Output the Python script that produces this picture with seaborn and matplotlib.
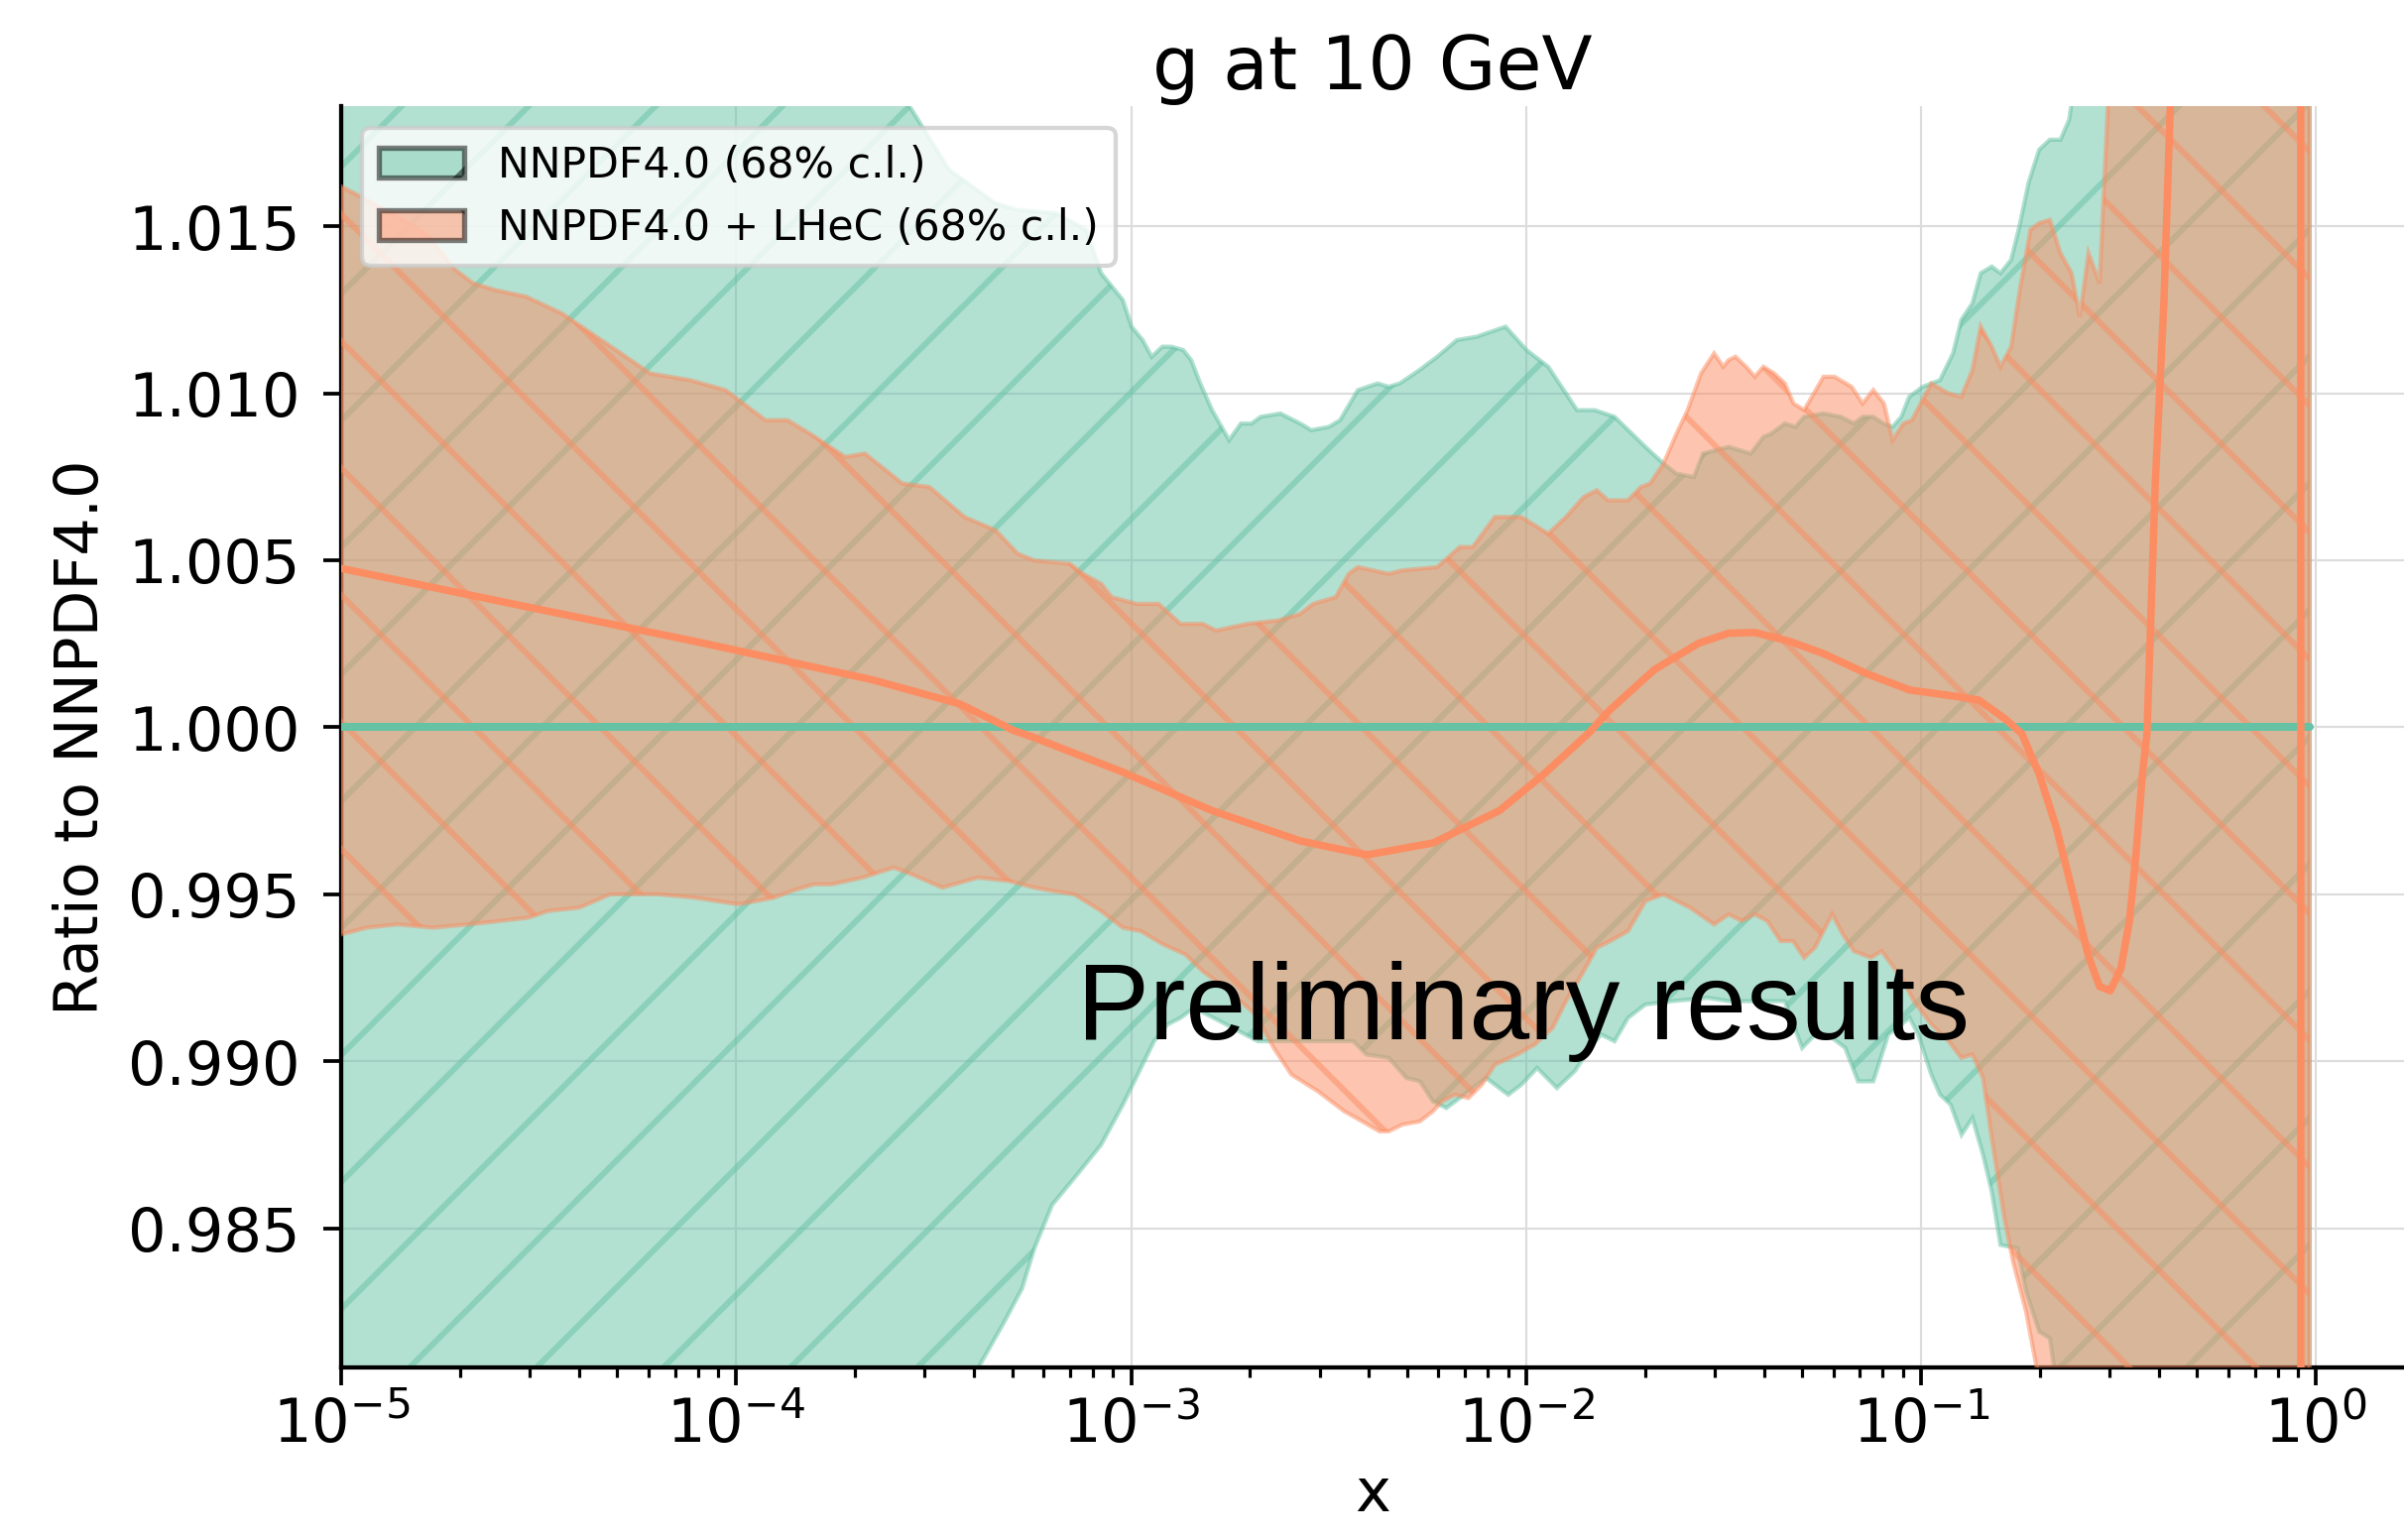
import numpy as np
import matplotlib
matplotlib.use("Agg")
import matplotlib.pyplot as plt
import matplotlib.patches as mpatches
from matplotlib.ticker import LogLocator, NullFormatter, FormatStrFormatter
import seaborn as sns

# ---------------------------------------------------------------------------
# Gluon ratio to NNPDF4.0 at Q = 10 GeV (68% c.l. envelopes), x on log10 scale
# ---------------------------------------------------------------------------
nnpdf_hi_log10x = [
    -5.00, -4.50, -4.00, -3.70, -3.561, -3.461, -3.345, -3.292, -3.191, -3.114,
    -3.076, -3.021, -2.999, -2.971, -2.948, -2.921, -2.898, -2.868, -2.848, -2.825,
    -2.795, -2.752, -2.722, -2.695, -2.672, -2.622, -2.572, -2.544, -2.499, -2.471,
    -2.426, -2.376, -2.348, -2.320, -2.270, -2.225, -2.175, -2.125, -2.052, -1.999,
    -1.944, -1.871, -1.826, -1.776, -1.698, -1.652, -1.620, -1.575, -1.552, -1.487,
    -1.431, -1.399, -1.379, -1.345, -1.318, -1.296, -1.247, -1.203, -1.170, -1.148,
    -1.121, -1.095, -1.072, -1.050, -1.030, -0.996, -0.952, -0.919, -0.898, -0.870,
    -0.849, -0.821, -0.799, -0.772, -0.751, -0.728, -0.701, -0.674, -0.647, -0.625,
    -0.620, -0.55, -0.40, -0.20, -0.016]
nnpdf_hi = [
    1.0300, 1.0270, 1.0230, 1.0200, 1.0186, 1.0167, 1.0157, 1.0155, 1.0154, 1.0149,
    1.0136, 1.0128, 1.0120, 1.0116, 1.0111, 1.0114, 1.0114, 1.0113, 1.0110, 1.0103,
    1.0095, 1.0086, 1.0091, 1.0091, 1.0093, 1.0094, 1.0091, 1.0089, 1.0090, 1.0092,
    1.0101, 1.0103, 1.0102, 1.0103, 1.0107, 1.0111, 1.0116, 1.0117, 1.0120, 1.0113,
    1.0108, 1.0095, 1.0095, 1.0093, 1.0084, 1.0079, 1.0076, 1.0075, 1.0082, 1.0084,
    1.0082, 1.0087, 1.0088, 1.0091, 1.0090, 1.0093, 1.0094, 1.0093, 1.0091, 1.0093,
    1.0093, 1.0091, 1.0090, 1.0093, 1.0099, 1.0102, 1.0104, 1.0112, 1.0122, 1.0127,
    1.0136, 1.0138, 1.0136, 1.0140, 1.0150, 1.0163, 1.0173, 1.0176, 1.0176, 1.0182,
    1.0186, 1.0250, 1.0400, 1.0700, 1.1200]

nnpdf_lo_log10x = [
    -5.00, -4.50, -4.00, -3.60, -3.388, -3.321, -3.276, -3.245, -3.200, -3.144,
    -3.076, -3.021, -2.942, -2.908, -2.875, -2.841, -2.775, -2.679, -2.624, -2.4375,
    -2.404, -2.348, -2.303, -2.269, -2.236, -2.202, -2.168, -2.1235, -2.101, -2.057,
    -2.045, -2.012, -1.972, -1.922, -1.877, -1.832, -1.810, -1.776, -1.742, -1.698,
    -1.630, -1.540, -1.487, -1.345, -1.301, -1.2685, -1.225, -1.192, -1.1595, -1.121,
    -1.083, -1.029, -1.007, -0.974, -0.952, -0.925, -0.8975, -0.870, -0.843, -0.821,
    -0.799, -0.756, -0.734, -0.701, -0.674, -0.663, -0.60, -0.40, -0.20, -0.016]
nnpdf_lo = [
    0.9720, 0.9740, 0.9770, 0.9790, 0.9808, 0.9822, 0.9832, 0.9844, 0.9857, 0.9865,
    0.9875, 0.9887, 0.9906, 0.9911, 0.9913, 0.9916, 0.9912, 0.9906, 0.9906, 0.9906,
    0.9902, 0.9901, 0.9895, 0.9894, 0.9888, 0.9886, 0.9889, 0.9893, 0.9895, 0.9891,
    0.9890, 0.9893, 0.9898, 0.9892, 0.9897, 0.9905, 0.9908, 0.9906, 0.9913, 0.9917,
    0.9918, 0.9919, 0.9918, 0.9918, 0.9904, 0.9908, 0.9907, 0.9904, 0.9894, 0.9894,
    0.9908, 0.9913, 0.9908, 0.9896, 0.9890, 0.9887, 0.9878, 0.9883, 0.9872, 0.9861,
    0.9845, 0.9844, 0.9831, 0.9819, 0.9817, 0.9808, 0.9750, 0.9500, 0.9000, 0.8500]

nnpdf_central_log10x = [-5.00, -0.016]
nnpdf_central = [1.0, 1.0]

lhec_hi_log10x = [
    -5.000, -4.935, -4.857, -4.778, -4.711, -4.666, -4.611, -4.532, -4.442, -4.329,
    -4.218, -4.117, -4.027, -3.926, -3.870, -3.814, -3.724, -3.674, -3.579, -3.511,
    -3.422, -3.343, -3.287, -3.245, -3.155, -3.122, -3.076, -3.049, -2.987, -2.931,
    -2.875, -2.819, -2.785, -2.706, -2.628, -2.572, -2.539, -2.482, -2.449, -2.426,
    -2.348, -2.314, -2.225, -2.168, -2.135, -2.079, -2.012, -1.944, -1.899, -1.854,
    -1.821, -1.793, -1.742, -1.709, -1.686, -1.652, -1.619, -1.591, -1.557, -1.524,
    -1.501, -1.487, -1.470, -1.443, -1.421, -1.399, -1.372, -1.345, -1.323, -1.296,
    -1.247, -1.219, -1.176, -1.148, -1.121, -1.094, -1.072, -1.045, -1.023, -0.974,
    -0.930, -0.898, -0.870, -0.849, -0.821, -0.799, -0.772, -0.750, -0.723, -0.701,
    -0.674, -0.647, -0.619, -0.598, -0.576, -0.548, -0.527, -0.50, -0.30, -0.10,
    -0.016]
lhec_hi = [
    1.0162, 1.0158, 1.0153, 1.0147, 1.0137, 1.0133, 1.0131, 1.0129, 1.0124, 1.0115,
    1.0106, 1.0104, 1.0101, 1.0092, 1.0092, 1.0088, 1.0081, 1.0082, 1.0073, 1.0072,
    1.0063, 1.0059, 1.0052, 1.0050, 1.0049, 1.0046, 1.0043, 1.0039, 1.0037, 1.0037,
    1.0031, 1.0031, 1.0029, 1.0031, 1.0032, 1.0034, 1.0037, 1.0039, 1.0046, 1.0048,
    1.0046, 1.0047, 1.0048, 1.0054, 1.0054, 1.0063, 1.0063, 1.0058, 1.0063, 1.0069,
    1.0071, 1.0068, 1.0068, 1.0072, 1.0073, 1.0079, 1.0088, 1.0095, 1.0106, 1.0112,
    1.0108, 1.0110, 1.0111, 1.0108, 1.0105, 1.0108, 1.0106, 1.0103, 1.0097, 1.0095,
    1.0105, 1.0105, 1.0102, 1.0097, 1.0101, 1.0097, 1.0086, 1.0091, 1.0092, 1.0103,
    1.0100, 1.0099, 1.0107, 1.0120, 1.0114, 1.0108, 1.0114, 1.0131, 1.0149, 1.0151,
    1.0152, 1.0142, 1.0136, 1.0123, 1.0142, 1.0133, 1.0186, 1.0300, 1.0600, 1.1200,
    1.1500]

lhec_lo_log10x = [
    -5.000, -4.935, -4.857, -4.767, -4.677, -4.599, -4.526, -4.476, -4.397, -4.319,
    -4.229, -4.196, -4.106, -3.994, -3.904, -3.859, -3.803, -3.758, -3.680, -3.601,
    -3.556, -3.478, -3.388, -3.310, -3.245, -3.199, -3.144, -3.076, -3.021, -2.976,
    -2.919, -2.863, -2.819, -2.762, -2.685, -2.639, -2.594, -2.527, -2.460, -2.415,
    -2.371, -2.348, -2.314, -2.269, -2.236, -2.213, -2.180, -2.146, -2.112, -2.079,
    -2.023, -1.978, -1.933, -1.899, -1.854, -1.821, -1.787, -1.742, -1.698, -1.652,
    -1.585, -1.524, -1.487, -1.454, -1.421, -1.389, -1.356, -1.324, -1.296, -1.269,
    -1.225, -1.198, -1.170, -1.127, -1.100, -1.050, -1.018, -0.974, -0.930, -0.898,
    -0.870, -0.843, -0.821, -0.789, -0.767, -0.734, -0.707, -0.65, -0.50, -0.30,
    -0.10, -0.016]
lhec_lo = [
    0.9938, 0.9940, 0.9941, 0.9940, 0.9941, 0.9942, 0.9943, 0.9945, 0.9946, 0.9950,
    0.9950, 0.9950, 0.9949, 0.9947, 0.9949, 0.9951, 0.9953, 0.9953, 0.9955, 0.9958,
    0.9956, 0.9952, 0.9955, 0.9954, 0.9952, 0.9951, 0.9950, 0.9945, 0.9940, 0.9939,
    0.9935, 0.9932, 0.9927, 0.9922, 0.9914, 0.9904, 0.9896, 0.9891, 0.9885, 0.9882,
    0.9879, 0.9879, 0.9881, 0.9882, 0.9885, 0.9888, 0.9890, 0.9889, 0.9893, 0.9899,
    0.9902, 0.9905, 0.9910, 0.9918, 0.9927, 0.9934, 0.9936, 0.9939, 0.9948, 0.9950,
    0.9946, 0.9941, 0.9944, 0.9942, 0.9944, 0.9942, 0.9936, 0.9936, 0.9931, 0.9934,
    0.9944, 0.9938, 0.9933, 0.9931, 0.9933, 0.9925, 0.9918, 0.9911, 0.9906, 0.9901,
    0.9902, 0.9895, 0.9877, 0.9853, 0.9840, 0.9825, 0.9808, 0.9750, 0.9600, 0.9400,
    0.9000, 0.8800]

lhec_central_log10x = [
    -5.000, -4.554, -4.106, -3.657, -3.433, -3.298, -3.245, -3.021, -2.796, -2.572,
    -2.403, -2.235, -2.067, -1.955, -1.843, -1.788, -1.675, -1.563, -1.487, -1.421,
    -1.334, -1.247, -1.138, -1.029, -0.919, -0.854, -0.789, -0.745, -0.701, -0.658,
    -0.614, -0.576, -0.548, -0.521, -0.494, -0.472, -0.456, -0.4395, -0.428, -0.407,
    -0.385, -0.369, -0.30, -0.15, -0.040, -0.037, -0.016]
lhec_central = [
    1.00476, 1.00367, 1.00258, 1.00143, 1.00070, 0.99991, 0.99969, 0.99866, 0.99751, 0.99660,
    0.99618, 0.99654, 0.99751, 0.99860, 0.99981, 1.00052, 1.00173, 1.00252, 1.00282, 1.00284,
    1.00258, 1.00221, 1.00161, 1.00112, 1.00094, 1.00082, 1.00027, 0.99981, 0.99860, 0.99702,
    0.99496, 0.99314, 0.99224, 0.99211, 0.99278, 0.99423, 0.99618, 0.99860, 0.99981, 1.00731,
    1.01277, 1.01859, 1.0500, 1.1200, 1.1800, 0.8200, 0.7600]

series_labels = ["NNPDF4.0 (68% c.l.)", "NNPDF4.0 + LHeC (68% c.l.)"]
y_ticks = [0.985, 0.990, 0.995, 1.000, 1.005, 1.010, 1.015]

# ---------------------------------------------------------------------------
DPI = 768
W_PX, H_PX = 2424, 1553

sns.set_style("ticks")
plt.rcParams.update({
    "font.family": ["DejaVu Sans"],
    "mathtext.fontset": "dejavusans",
    "hatch.linewidth": 0.55,
    "patch.linewidth": 0.4,
    "axes.linewidth": 0.4,
    "axes.edgecolor": "black",
    "axes.labelcolor": "black",
    "text.color": "black",
    "xtick.color": "black",
    "ytick.color": "black",
})

green, orange = sns.color_palette("Set2")[:2]

fig = plt.figure(figsize=((W_PX + 0.3) / DPI, (H_PX + 0.3) / DPI), dpi=DPI)
ax = fig.add_axes([344 / W_PX, (H_PX - 1379) / H_PX,
                   1 - 344 / W_PX, (1379 - 107.5) / H_PX])


def to_x(log10x):
    return 10.0 ** np.asarray(log10x)


def draw_band(hi_lx, hi, lo_lx, lo, color, hatch, z):
    px = np.concatenate([to_x(hi_lx), to_x(lo_lx)[::-1]])
    py = np.concatenate([np.asarray(hi), np.asarray(lo)[::-1]])
    ax.fill(px, py, facecolor=color, edgecolor=color, alpha=0.5,
            hatch=hatch, linewidth=0.4, zorder=z)


draw_band(nnpdf_hi_log10x, nnpdf_hi, nnpdf_lo_log10x, nnpdf_lo, green, "//", 2)
draw_band(lhec_hi_log10x, lhec_hi, lhec_lo_log10x, lhec_lo, orange, "\\\\", 3)

sns.lineplot(x=to_x(nnpdf_central_log10x), y=nnpdf_central, sort=False,
             estimator=None, color=green, linewidth=0.75, ax=ax, zorder=4)
sns.lineplot(x=to_x(lhec_central_log10x), y=lhec_central, sort=False,
             estimator=None, color=orange, linewidth=0.7, ax=ax, zorder=5)

ax.set_xscale("log")
ax.set_xlim(1e-5, 1.673)
ax.set_ylim(0.98083, 1.0186)

ax.xaxis.set_major_locator(LogLocator(base=10, numticks=10))
ax.xaxis.set_minor_locator(LogLocator(base=10, subs=np.arange(2, 10), numticks=20))
ax.xaxis.set_minor_formatter(NullFormatter())
ax.set_yticks(y_ticks)
ax.yaxis.set_major_formatter(FormatStrFormatter("%.3f"))

ax.tick_params(axis="both", which="major", length=1.7, width=0.35,
               labelsize=5.7, direction="out")
ax.tick_params(axis="x", which="minor", length=0.95, width=0.3, direction="out")
ax.tick_params(axis="x", which="major", pad=1.0)
ax.tick_params(axis="y", which="major", pad=2.2)

ax.grid(True, which="major", color="#dcdcdc", linewidth=0.2)
ax.set_axisbelow(True)
sns.despine(ax=ax)
for s in ("left", "bottom"):
    ax.spines[s].set_linewidth(0.4)

ax.set_title("g at 10 GeV", fontsize=7.0, pad=1.6)
ax.set_xlabel("x", fontsize=5.7, labelpad=1.0)
ax.set_ylabel("Ratio to NNPDF4.0", fontsize=5.7, labelpad=1.6)

handles = [
    mpatches.Patch(facecolor=green, edgecolor="black", alpha=0.5, hatch="//",
                   linewidth=0.5, label=series_labels[0]),
    mpatches.Patch(facecolor=orange, edgecolor="black", alpha=0.5, hatch="\\\\",
                   linewidth=0.5, label=series_labels[1]),
]
leg = ax.legend(handles=handles, loc="upper left", fontsize=4.0, frameon=True,
                framealpha=0.8, edgecolor="0.8", fancybox=True)
leg.set_zorder(6)

ax.text(0.3567, 0.2603, "Preliminary results", transform=ax.transAxes,
        fontsize=10.25, family=["Liberation Sans", "DejaVu Sans"],
        ha="left", va="baseline", color="black", zorder=7)

fig.savefig("out.png", dpi=DPI)
